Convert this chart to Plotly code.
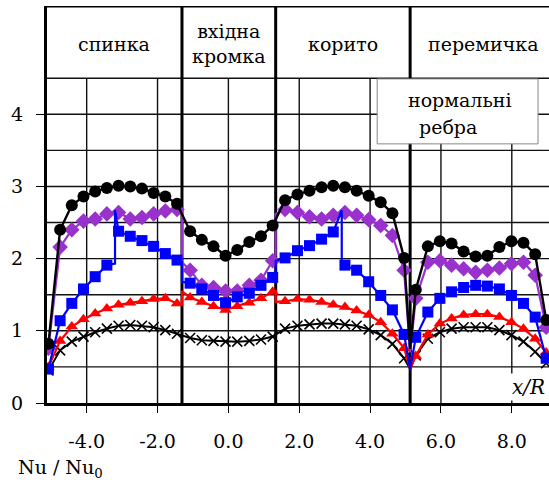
import plotly.graph_objects as go

# ---------------- data ----------------
X_SPINKA = [-5.08, -4.75, -4.42, -4.09, -3.76, -3.43, -3.10, -2.77, -2.44, -2.11, -1.78, -1.45]
X_KROMKA = [-1.08, -0.75, -0.42, -0.08, 0.25, 0.59, 0.92, 1.25]
X_KORYTO = [1.60, 1.95, 2.29, 2.63, 2.96, 3.29, 3.62, 3.96, 4.30, 4.63, 4.96]
X_PEREM = [5.29, 5.63, 5.97, 6.30, 6.64, 6.98, 7.31, 7.65, 7.99, 8.33, 8.66, 8.97]

# region boundaries (x/R)
BOUNDARIES = [-1.31, 1.335, 5.13]
X_RANGE = [-5.12, 9.05]

HEADER_LABELS = ["спинка", "вхідна<br>кромка", "корито", "перемичка"]
X_TICKS = [-4, -2, 0, 2, 4, 6, 8]
X_TICK_TEXT = ["-4.0", "-2.0", "0.0", "2.0", "4.0", "6.0", "8.0"]
Y_TICKS = [0, 1, 2, 3, 4]

Y_BLACK = [0.82, 2.40, 2.74, 2.86, 2.93, 2.98, 3.01, 3.00, 2.97, 2.91, 2.86, 2.76,
           2.38, 2.26, 2.17, 2.04, 2.12, 2.23, 2.31, 2.46,
           2.81, 2.89, 2.94, 2.99, 3.01, 2.99, 2.94, 2.87, 2.78, 2.63, 2.01,
           1.57, 2.17, 2.24, 2.21, 2.10, 2.03, 2.04, 2.16, 2.24, 2.22, 2.06, 1.15]
Y_PURPLE = [0.76, 2.16, 2.40, 2.52, 2.55, 2.62, 2.64, 2.55, 2.57, 2.62, 2.66, 2.68,
            1.84, 1.63, 1.60, 1.55, 1.55, 1.63, 1.70, 1.97,
            2.68, 2.64, 2.58, 2.55, 2.60, 2.64, 2.60, 2.54, 2.46, 2.32, 1.84,
            1.45, 1.95, 1.97, 1.91, 1.86, 1.81, 1.84, 1.87, 1.93, 1.95, 1.77, 1.05]
Y_BLUE = [0.47, 1.14, 1.38, 1.58, 1.75, 1.91, 2.38, 2.31, 2.25, 2.17, 2.07, 1.98,
          1.66, 1.58, 1.49, 1.39, 1.47, 1.52, 1.63, 1.74,
          2.01, 2.11, 2.18, 2.27, 2.37, 1.91, 1.84, 1.68, 1.49, 1.29, 0.95,
          0.91, 1.26, 1.45, 1.54, 1.60, 1.63, 1.62, 1.58, 1.49, 1.38, 1.19, 0.62]
Y_RED = [0.50, 0.86, 1.06, 1.16, 1.24, 1.31, 1.36, 1.39, 1.41, 1.44, 1.45, 1.38,
         1.46, 1.40, 1.34, 1.29, 1.34, 1.39, 1.45, 1.54,
         1.41, 1.44, 1.43, 1.40, 1.36, 1.33, 1.28, 1.22, 1.12, 0.96, 0.76,
         0.65, 0.95, 1.10, 1.17, 1.22, 1.23, 1.23, 1.19, 1.12, 1.03, 0.89, 0.70]
Y_CROSS = [0.45, 0.73, 0.85, 0.92, 0.98, 1.03, 1.07, 1.08, 1.07, 1.05, 1.01, 0.96,
           0.90, 0.87, 0.86, 0.85, 0.85, 0.86, 0.88, 0.92,
           1.03, 1.07, 1.09, 1.10, 1.10, 1.09, 1.07, 1.02, 0.94, 0.82, 0.62,
           0.66, 0.89, 0.98, 1.03, 1.05, 1.05, 1.05, 1.01, 0.94, 0.85, 0.71, 0.55]

# line-only vertices (jumps at region borders, spikes, the dip at x/R = 5.13)
EXTRA_BLACK = [(5.13, 0.75)]
EXTRA_PURPLE = [(-1.31, 2.68), (-1.31, 1.95), (1.335, 2.05), (1.335, 2.62), (5.13, 0.70)]
EXTRA_BLUE = [(-3.20, 1.93), (-3.20, 2.67), (-1.31, 1.95), (-1.31, 1.68),
              (1.335, 1.76), (1.335, 1.97), (3.20, 2.67), (3.20, 1.93), (5.13, 0.47)]
EXTRA_RED = [(-1.31, 1.37), (-1.31, 1.55), (1.335, 1.55), (1.335, 1.40), (5.13, 0.47)]
EXTRA_CROSS = [(5.13, 0.47)]

X_ALL = X_SPINKA + X_KROMKA + X_KORYTO + X_PEREM

FONT = "DejaVu Serif"


def merged(ys, extras):
    pts = [(x, y, True) for x, y in zip(X_ALL, ys)] + [(x, y, False) for x, y in extras]
    pts.sort(key=lambda p: p[0])
    return [p[0] for p in pts], [p[1] for p in pts], [p[2] for p in pts]


fig = go.Figure()

series = [
    (Y_CROSS, EXTRA_CROSS, "black", "x-thin", 10, 2.0),
    (Y_PURPLE, EXTRA_PURPLE, "#9932CC", "diamond", 12, 2.2),
    (Y_RED, EXTRA_RED, "#FF0000", "triangle-up", 11, 2.2),
    (Y_BLUE, EXTRA_BLUE, "#0000FF", "square", 11, 2.2),
    (Y_BLACK, EXTRA_BLACK, "black", "circle", 12, 2.4),
]
for ys, extras, color, symbol, size, lw in series:
    xs, yv, vis = merged(ys, extras)
    sizes = [size if v else 0 for v in vis]
    marker = dict(symbol=symbol, size=sizes, color=color, opacity=1)
    if symbol == "x-thin":
        marker["line"] = dict(color=color, width=1.6)
    else:
        marker["line"] = dict(width=0)
    fig.add_trace(go.Scatter(x=xs, y=yv, mode="lines+markers", opacity=1,
                             line=dict(color=color, width=lw, shape="linear"),
                             marker=marker, showlegend=False, hoverinfo="skip"))

shapes = []
for k in range(1, 10):
    yv = k * 0.5
    shapes.append(dict(type="line", xref="x", yref="y", x0=X_RANGE[0], x1=X_RANGE[1],
                       y0=yv, y1=yv, line=dict(color="#111", width=1.4), layer="below"))
for xv in X_TICKS:
    shapes.append(dict(type="line", xref="x", yref="y", x0=xv, x1=xv, y0=0, y1=4.5,
                       line=dict(color="#111", width=1.4), layer="below"))
for xv in BOUNDARIES:
    shapes.append(dict(type="line", xref="x", yref="y", x0=xv, x1=xv, y0=0, y1=5.5,
                       line=dict(color="black", width=3), layer="below"))
shapes.append(dict(type="line", xref="x", yref="y", x0=X_RANGE[0], x1=X_RANGE[1],
                   y0=5.5, y1=5.5, line=dict(color="black", width=3), layer="below"))
shapes.append(dict(type="rect", xref="x", yref="y", x0=4.20, x1=8.74, y0=3.59, y1=4.49,
                   fillcolor="white", line=dict(color="#888", width=1), layer="below"))

annotations = []
hx = [(X_RANGE[0] + BOUNDARIES[0]) / 2, (BOUNDARIES[0] + BOUNDARIES[1]) / 2,
      (BOUNDARIES[1] + BOUNDARIES[2]) / 2, 7.19]
for txt, xv in zip(HEADER_LABELS, hx):
    annotations.append(dict(x=xv, y=4.98, xref="x", yref="y", text=txt, showarrow=False,
                            font=dict(family=FONT, size=19, color="black"),
                            xanchor="center", yanchor="middle"))
annotations.append(dict(x=6.54, y=4.20, xref="x", yref="y", text="нормальні", showarrow=False,
                        font=dict(family=FONT, size=19, color="black")))
annotations.append(dict(x=6.20, y=3.82, xref="x", yref="y", text="ребра", showarrow=False,
                        font=dict(family=FONT, size=19, color="black")))
annotations.append(dict(x=8.46, y=0.22, xref="x", yref="y", text="<i>x/R</i>", showarrow=False,
                        bgcolor="white", borderpad=1,
                        font=dict(family=FONT, size=20, color="black")))
annotations.append(dict(x=-0.062, y=-0.166, xref="paper", yref="paper",
                        text="Nu / Nu<sub>0</sub>", showarrow=False,
                        xanchor="left", yanchor="middle",
                        font=dict(family=FONT, size=19, color="black")))

fig.update_layout(
    width=549, height=483,
    margin=dict(l=47, r=0, t=6, b=80),
    paper_bgcolor="white", plot_bgcolor="white",
    font=dict(family=FONT),
    shapes=shapes, annotations=annotations,
    xaxis=dict(range=X_RANGE, showgrid=False, zeroline=False,
               tickvals=X_TICKS, ticktext=X_TICK_TEXT, ticks="outside", ticklen=7,
               tickwidth=1.4, tickcolor="black", showline=True, linewidth=3,
               linecolor="black", ticklabelstandoff=12,
               tickfont=dict(family=FONT, size=19, color="black")),
    yaxis=dict(range=[0, 5.5], showgrid=False, zeroline=False,
               tickvals=Y_TICKS, ticks="outside", ticklen=8, tickwidth=1.4,
               tickcolor="black", showline=True, linewidth=3, linecolor="black",
               ticklabelstandoff=9,
               tickfont=dict(family=FONT, size=19, color="black")),
)

fig.write_html("out.html", config={"displayModeBar": False},
               post_script="document.body.style.margin='0';")
